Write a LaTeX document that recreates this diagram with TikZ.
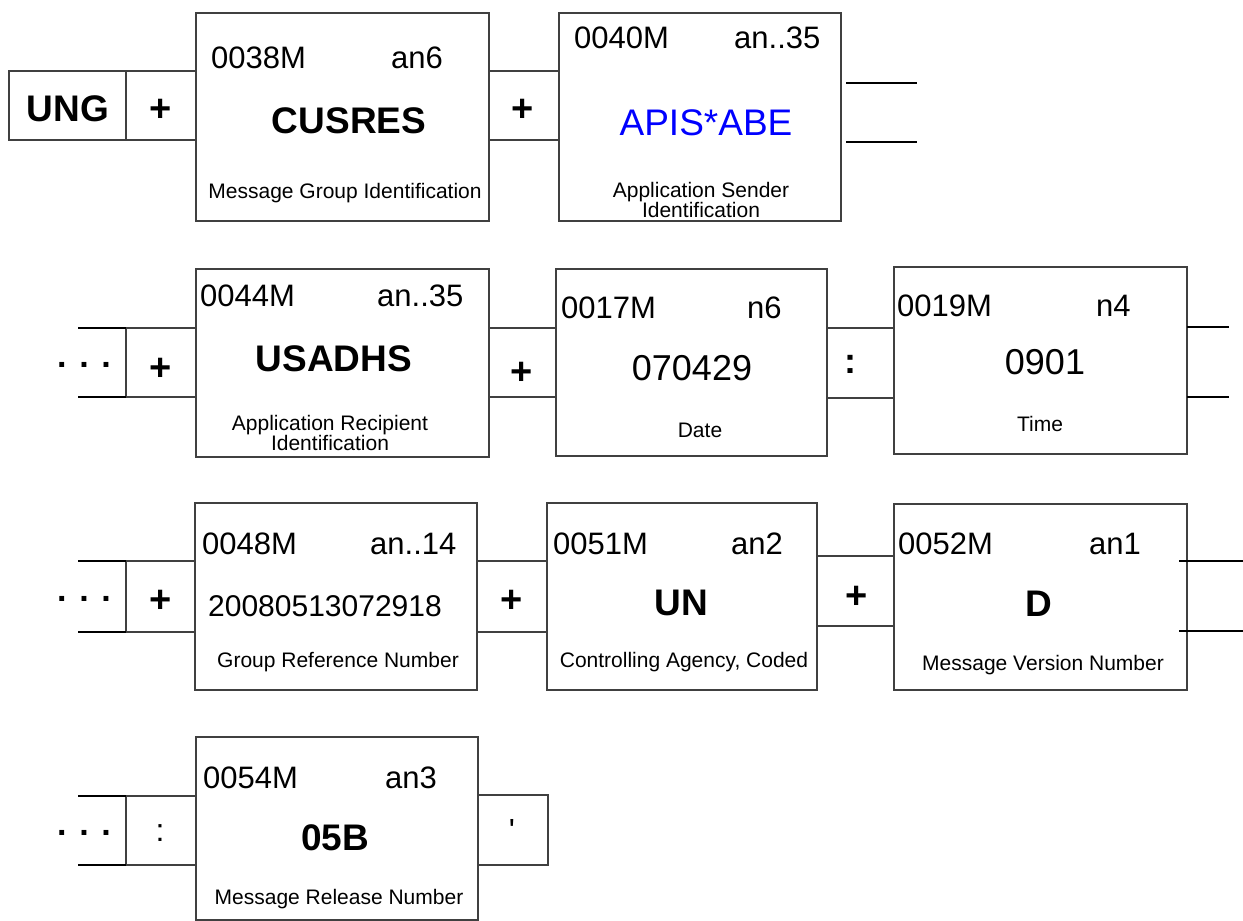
\documentclass[tikz,border=0pt]{standalone}
\usepackage{fontspec}
\setmainfont{Liberation Sans}
\begin{document}
\begin{tikzpicture}[x=1pt,y=-1pt,
  box/.style={draw=black!75, line width=1.2pt, inner sep=0pt, outer sep=0pt, anchor=north west},
  stub/.style={line width=1.6pt, black},
  code/.style={font=\fontsize{31}{31}\selectfont, anchor=base west, inner sep=0pt},
  val/.style={font=\fontsize{37}{37}\selectfont\bfseries, anchor=base, inner sep=0pt},
  plainval/.style={font=\fontsize{36}{36}\selectfont, anchor=base, inner sep=0pt},
  lbl/.style={font=\fontsize{21}{20}\selectfont, anchor=base, inner sep=0pt, align=center},
  sym/.style={font=\fontsize{38}{38}\selectfont\bfseries, anchor=base, inner sep=0pt},
  colon/.style={font=\fontsize{36}{36}\selectfont\bfseries, anchor=base, inner sep=0pt},
  light/.style={font=\fontsize{32}{32}\selectfont, anchor=base, inner sep=0pt},
  dotsym/.style={font=\fontsize{34}{34}\selectfont\bfseries, anchor=base, inner sep=0pt}]

\useasboundingbox (0,0) rectangle (1243,921);

% ---------- Row 1 ----------
\node[box, minimum width=117pt, minimum height=69pt] (ung) at (9,71) {};
\node[box, minimum width=70pt, minimum height=69pt] (s1) at (126,71) {};
\node[box, minimum width=293pt, minimum height=208pt] (b1) at (196,13) {};
\node[box, minimum width=70pt, minimum height=69pt] (s2) at (489,71) {};
\node[box, minimum width=282pt, minimum height=208pt] (b2) at (559,13) {};

\node[val] (tung) at (68,121) {UNG};
\node[sym] (p1) at (161,121) {+};
\node[code] (c1) at (211,68) {0038M};
\node[code] (f1) at (391,68) {an6};
\node[val] (v1) at (349,133) {CUSRES};
\node[lbl] (l1) at (345,198.5) {Message Group Identification};
\node[sym] (p2) at (523,121) {+};
\node[code] (c2) at (574,48) {0040M};
\node[code] (f2) at (734,48) {an..35};
\node[plainval, text=blue, font=\fontsize{37}{37}\selectfont] (v2) at (706,135) {APIS*ABE};
\node[lbl, anchor=center] (l2) at (701,200) {Application Sender\\Identification};

\coordinate (r1a) at (846,83);  \coordinate (r1b) at (917,83);
\coordinate (r1c) at (846,142); \coordinate (r1d) at (917,142);
\draw[stub] (r1a) -- (r1b);
\draw[stub] (r1c) -- (r1d);

% ---------- Row 2 ----------
\node[dotsym] (d2) at (84,367) {. . .};
\coordinate (o2a) at (78,328); \coordinate (o2b) at (78,397);
\node[box, minimum width=70pt, minimum height=69pt] (s3) at (126,328) {};
\draw[stub] (o2a) -- (s3.north west);
\draw[stub] (o2b) -- (s3.south west);
\node[sym] (p3) at (161,380) {+};
\node[box, minimum width=293pt, minimum height=188pt] (b3) at (196,269) {};
\node[code] (c3) at (200,306) {0044M};
\node[code] (f3) at (377,306) {an..35};
\node[val] (v3) at (334,371) {USADHS};
\node[lbl, anchor=center] (l3) at (330,433) {Application Recipient\\Identification};
\node[box, minimum width=67pt, minimum height=69pt] (s4) at (489,328) {};
\node[sym] (p4) at (522,384.5) {+};
\node[box, minimum width=271pt, minimum height=187pt] (b4) at (556,269) {};
\node[code] (c4) at (561,318) {0017M};
\node[code] (f4) at (747,318) {n6};
\node[plainval] (v4) at (692,380) {070429};
\node[lbl] (l4) at (700,437.5) {Date};
\node[box, minimum width=67pt, minimum height=70pt] (s5) at (827,328) {};
\node[colon] (p5) at (850,373.5) {:};
\node[box, minimum width=293pt, minimum height=187pt] (b5) at (894,267) {};
\node[code] (c5) at (897,316) {0019M};
\node[code] (f5) at (1096,316) {n4};
\node[plainval] (v5) at (1045,374) {0901};
\node[lbl] (l5) at (1040,431.5) {Time};
\coordinate (r2a) at (1229,327); \coordinate (r2b) at (1229,397);
\draw[stub] (b5.east |- r2a) -- (r2a);
\draw[stub] (b5.east |- r2b) -- (r2b);

% ---------- Row 3 ----------
\node[dotsym] (d3) at (84,601) {. . .};
\coordinate (o3a) at (78,561); \coordinate (o3b) at (78,632);
\node[box, minimum width=69pt, minimum height=71pt] (s6) at (126,561) {};
\draw[stub] (o3a) -- (s6.north west);
\draw[stub] (o3b) -- (s6.south west);
\node[sym] (p6) at (161,612.5) {+};
\node[box, minimum width=282pt, minimum height=187pt] (b6) at (195,503) {};
\node[code] (c6) at (202,554) {0048M};
\node[code] (f6) at (370,554) {an..14};
\node[code, font=\fontsize{30}{30}\selectfont] (v6) at (208,616) {20080513072918};
\node[lbl] (l6) at (338,667.5) {Group Reference Number};
\node[box, minimum width=70pt, minimum height=71pt] (s7) at (477,561) {};
\node[sym] (p7) at (512,612.5) {+};
\node[box, minimum width=270pt, minimum height=187pt] (b7) at (547,503) {};
\node[code] (c7) at (553,554) {0051M};
\node[code] (f7) at (731,554) {an2};
\node[val] (v7) at (681,615.5) {UN};
\node[lbl] (l7) at (684,667.5) {Controlling Agency, Coded};
\node[box, minimum width=77pt, minimum height=70pt] (s8) at (817,556) {};
\node[sym] (p8) at (857,608.5) {+};
\node[box, minimum width=293pt, minimum height=186pt] (b8) at (894,504) {};
\node[code] (c8) at (898,554) {0052M};
\node[code] (f8) at (1089,554) {an1};
\node[val] (v8) at (1039,616) {D};
\node[lbl] (l8) at (1043,670.5) {Message Version Number};
\coordinate (r3a) at (1179,561); \coordinate (r3b) at (1243,561);
\coordinate (r3c) at (1179,631); \coordinate (r3d) at (1243,631);
\draw[stub] (r3a) -- (r3b);
\draw[stub] (r3c) -- (r3d);

% ---------- Row 4 ----------
\node[dotsym] (d4) at (84,835) {. . .};
\coordinate (o4a) at (78,796); \coordinate (o4b) at (78,865);
\node[box, minimum width=70pt, minimum height=69pt] (s9) at (126,796) {};
\draw[stub] (o4a) -- (s9.north west);
\draw[stub] (o4b) -- (s9.south west);
\node[light] (p9) at (160,841) {:};
\node[box, minimum width=282pt, minimum height=183pt] (b9) at (196,737) {};
\node[code] (c9) at (203,788) {0054M};
\node[code] (f9) at (385,788) {an3};
\node[val] (v9) at (335,850.5) {05B};
\node[lbl] (l9) at (339,904.5) {Message Release Number};
\node[box, minimum width=70pt, minimum height=70pt] (s10) at (478,795) {};
\node[light] (p10) at (512,841) {\textquotesingle};
\end{tikzpicture}
\end{document}
